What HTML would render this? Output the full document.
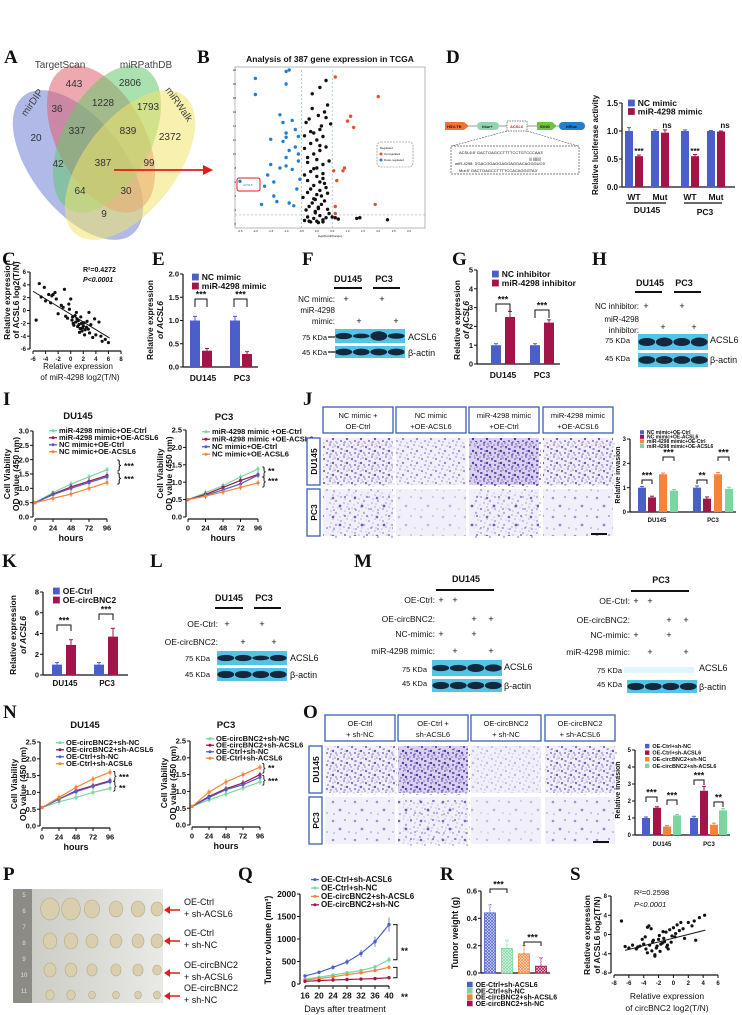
<!DOCTYPE html>
<html><head><meta charset="utf-8">
<style>
html,body{margin:0;padding:0;background:#fff;}
svg{display:block;font-family:"Liberation Sans Narrow","Liberation Sans",sans-serif;}
</style></head>
<body>
<svg id="fig" width="742" height="1015" viewBox="0 0 742 1015" xmlns="http://www.w3.org/2000/svg">
<defs>
<pattern id="dotsD" width="14" height="12" patternUnits="userSpaceOnUse">
<circle cx="2" cy="3" r="1.1" fill="#5a3fb5"/><circle cx="8" cy="1" r="0.9" fill="#6a4fc0"/><circle cx="11" cy="7" r="1.2" fill="#4e36a8"/><circle cx="5" cy="9" r="1" fill="#6a4fc0"/><circle cx="1" cy="11" r="0.8" fill="#7a60c8"/><circle cx="9" cy="10" r="0.7" fill="#5a3fb5"/><circle cx="13" cy="2" r="0.7" fill="#7a60c8"/><circle cx="6" cy="5" r="0.8" fill="#5a3fb5"/></pattern>
<pattern id="dotsS" width="22" height="19" patternUnits="userSpaceOnUse">
<circle cx="3" cy="4" r="1.3" fill="#5a3fb5"/><circle cx="15" cy="3" r="1" fill="#6a4fc0"/><circle cx="10" cy="12" r="1.4" fill="#4e36a8"/><circle cx="19" cy="15" r="0.9" fill="#7a60c8"/><circle cx="4" cy="16" r="0.8" fill="#6a4fc0"/></pattern>
<pattern id="hB" width="3" height="3" patternUnits="userSpaceOnUse"><rect width="3" height="3" fill="#dfe3fa"/><path d="M0 0L3 3M3 0L0 3" stroke="#4b5fc9" stroke-width="0.7"/></pattern>
<pattern id="hG" width="3" height="3" patternUnits="userSpaceOnUse"><rect width="3" height="3" fill="#e3f7ea"/><path d="M0 0L3 3M3 0L0 3" stroke="#7dd6a0" stroke-width="0.7"/></pattern>
<pattern id="hO" width="3" height="3" patternUnits="userSpaceOnUse"><rect width="3" height="3" fill="#fde6d6"/><path d="M0 0L3 3M3 0L0 3" stroke="#f5843b" stroke-width="0.7"/></pattern>
<pattern id="hR" width="3" height="3" patternUnits="userSpaceOnUse"><rect width="3" height="3" fill="#f3d4df"/><path d="M0 0L3 3M3 0L0 3" stroke="#a3154a" stroke-width="0.7"/></pattern>
<linearGradient id="photo" x1="0" x2="1"><stop offset="0" stop-color="#c9c9c2"/><stop offset="1" stop-color="#e9e9e6"/></linearGradient>
</defs>
</svg>
<script>
// ---------- data ----------
const dNC=[1.0,1.0,1.0,1.0];
const dMimic=[0.55,0.97,0.55,0.99];
const dErrNC=[0.06,0.02,0.02,0.01];
const dErrMimic=[0.02,0.05,0.03,0.01];
const eNC=[1.0,1.0];
const eMimic=[0.35,0.28];
const gNC=[1.0,1.0];
const gInh=[2.5,2.2];
const kCtrl=[1.0,1.0];
const kCirc=[2.9,3.7];
const jDU=[1.0,0.6,1.55,0.88];
const jPC=[1.0,0.55,1.55,0.95];
const oDU=[1.0,1.6,0.5,1.15];
const oPC=[1.0,2.6,0.6,1.45];
const rWeights=[0.44,0.18,0.14,0.05];
const hours=[0,24,48,72,96];
const iDU_green=[0.5,0.85,1.15,1.4,1.65];
const iDU_red=[0.5,0.8,1.05,1.25,1.45];
const iDU_blue=[0.5,0.78,1.0,1.2,1.4];
const iDU_orange=[0.5,0.65,0.8,1.0,1.2];
const iPC_green=[0.5,0.7,0.9,1.15,1.38];
const iPC_red=[0.5,0.65,0.85,1.05,1.22];
const iPC_blue=[0.5,0.62,0.78,0.95,1.2];
const iPC_orange=[0.5,0.6,0.72,0.85,0.98];
const nDU_green=[0.55,0.72,0.85,1.0,1.12];
const nDU_red=[0.55,0.8,1.05,1.2,1.35];
const nDU_blue=[0.55,0.8,1.02,1.18,1.32];
const nDU_orange=[0.55,0.85,1.15,1.4,1.6];
const nPC_green=[0.55,0.75,0.92,1.1,1.28];
const nPC_red=[0.55,0.85,1.08,1.25,1.5];
const nPC_blue=[0.55,0.82,1.05,1.2,1.42];
const nPC_orange=[0.55,0.98,1.28,1.5,1.72];
const days=[16,20,24,28,32,36,40];
const qBlue=[180,260,370,490,680,940,1320];
const qGreen=[110,150,200,250,300,380,540];
const qOrange=[90,120,160,210,250,300,370];
const qRed=[60,75,90,100,110,120,140];
const cX=[-5.5,-5,-4.7,-4.2,-4,-3.5,-3.2,-3,-2.8,-2.5,-2.3,-2,-1.5,-1,-0.8,-0.5,-0.3,0,0.2,0.4,0.5,0.7,0.8,1,1.1,1.2,1.3,1.5,1.6,1.8,2,2.1,2.3,2.5,2.6,2.8,3,3.2,3.5,4,4.5,5,5.5,6,-1.2,0.9,1.7,2.2,0.3,-0.2,1.4,3.8,4.8,2.9,1.9];
const cY=[-1.5,4.2,2.1,3.6,1.5,2.5,1.2,2.3,2.5,2.8,1.8,-0.5,0.8,3.3,-0.9,-1.2,1.0,1.8,-1.5,-2.0,-2.3,-0.8,-1.8,-1.3,-2.5,-1.6,-2.2,-2.8,-1.0,-3.2,-2.4,-1.9,-3.0,-2.6,-1.7,-2.9,-3.5,-2.2,-4.2,-3.8,-1.8,-4.8,-4.5,-5.0,0.5,-0.3,-2.0,-3.8,-1.0,0.2,-3.4,-1.3,-4.0,-0.3,-2.7];
const sX=[-7,-6.5,-6,-5.5,-5,-4.8,-4.5,-4.2,-4,-3.8,-3.5,-3.3,-3,-2.8,-2.5,-2.3,-2,-1.8,-1.5,-1.3,-1,-0.8,-0.5,-0.3,0,0.2,0.5,0.8,1,1.3,1.5,2,2.5,3,3.5,4.2,-3.7,-3.2,-2.7,-2.2,-1.7,-1.2,-0.7,-0.2,0.3,-2.5,-1.9,-1.4,-0.9,2.8,-3.5,-2.9];
const sY=[2.8,-2.5,-2.8,-2.2,-3.0,-2.6,-2.4,-1.0,-2.0,-0.5,1.5,1.8,1.2,-1.5,-4.5,-2.8,-1.0,-3.5,-1.8,-0.8,0.5,-2.2,1.0,-1.6,1.4,-0.5,2.0,0.8,2.5,1.2,-0.8,2.5,1.8,-1.2,3.5,4.0,-3.0,-2.2,-1.2,-2.4,-2.0,-1.5,-3.0,-0.3,0.2,-4.2,-0.2,0.6,-2.6,2.8,-3.8,-3.4];
const vBlackX=[-0.4,-0.3,-0.2,-0.1,0,0.1,0.2,0.3,0.4,-0.35,-0.25,-0.15,-0.05,0.05,0.15,0.25,0.35,-0.45,-0.3,-0.2,-0.1,0,0.1,0.2,0.3,-0.4,-0.2,0,0.2,0.4,-0.3,-0.1,0.1,0.3,-0.2,0,0.2,-0.1,0.1,0.15,-0.35,-0.25,0.05,0.25,-0.15,0.35,-0.05,0.15,-0.3,0.2,0,0.1,-0.2,0.3,0.45,-0.4,0.5,0.7,1.3,1.4,2.3,-0.4,0.1,0.3,-0.15,0.05,-0.25,0.2,0.6,-0.05,0.05,-0.1,0.1,0,-0.3,-0.1,0.25,0.35];
const vBlackY=[0.5,1.0,0.3,0.8,0.4,1.2,0.6,0.9,1.5,2.0,2.5,3.0,1.8,2.2,2.8,3.3,2.1,3.8,4.5,5.0,5.5,4.2,6.0,6.5,5.2,7.0,7.5,8.0,8.5,9.0,9.5,10.0,10.5,11.0,11.5,12.0,12.5,13.0,13.5,14.0,14.5,15.0,15.5,16.0,16.5,17.0,3.5,4.0,6.2,7.2,9.2,11.2,13.2,15.2,14.3,12.6,1.0,0.7,0.8,0.9,0.6,10.8,19.5,20.5,18.6,0.2,0.4,0.3,0.9,1.6,2.4,3.6,4.8,6.8,8.8,7.9,5.8,4.4];
const vBlueX=[-2.0,-2.0,-1.0,-0.9,-1.0,-1.5,-2.5,-1.2,-1.1,-1.0,-0.8,-0.6,-1.6,-1.4,-1.0,-0.7,-0.6,-1.8,-1.3,-0.9,-0.75,-1.1,-0.65,-1.5,-1.0,-0.8,-0.55,-1.7,-1.4,-1.0,-0.7,-0.6,-0.9,-1.2];
const vBlueY=[20.8,18.5,21.8,22.0,20.0,12.1,6.1,15.6,14.5,13.0,14.8,12.5,7.0,6.0,9.5,11.0,10.0,2.8,3.2,3.0,2.6,11.8,5.0,8.5,8.3,7.8,6.4,5.4,4.0,12.4,13.5,9.0,10.5,8.0];
const vRedX=[0.6,2.0,1.1,1.0,1.2,0.9,0.85,0.55,0.65,0.6,0.6,1.9];
const vRedY=[21.0,18.2,15.4,14.7,13.8,8.0,7.6,7.6,6.2,2.5,1.5,2.8];

// ---------- helpers ----------
const S=document.getElementById('fig');
const NS='http://www.w3.org/2000/svg';
function el(tag,a,name,p){
 const e=document.createElementNS(NS,tag);
 for(const k in a)e.setAttribute(k,a[k]);
 
 
 (p||S).appendChild(e);return e;}
function tx(x,y,s,sz,name,o){o=o||{};
 const e=el('text',{x:x,y:y,'font-size':sz,'text-anchor':o.a||'start','font-weight':o.w||'bold',fill:o.f||'#111'},name);
 if(o.it)e.setAttribute('font-style','italic');
 if(o.ff)e.setAttribute('font-family',o.ff);
 e.textContent=s;
 if(o.rot)e.setAttribute('transform','rotate(-90 '+x+' '+y+')');
 return e;}
function lin(d0,d1,r0,r1){return v=>r0+(v-d0)*(r1-r0)/(d1-d0);}
function L(x1,y1,x2,y2,name,w,c,dash){const a={x1:x1,y1:y1,x2:x2,y2:y2,stroke:c||'#111','stroke-width':w||1.2};if(dash)a['stroke-dasharray']=dash;return el('line',a,name);}
function yAxis(x,sc,ticks,labels,sz,name){
 L(x,sc(ticks[0]),x,sc(ticks[ticks.length-1]),name);
 ticks.forEach((t,i)=>{L(x-3,sc(t),x,sc(t),name+'-tick',1);tx(x-4,sc(t)+sz*0.35,labels[i],sz,name+'-label',{a:'end'});});}
function xAxis(y,sc,ticks,labels,sz,name){
 L(sc(ticks[0]),y,sc(ticks[ticks.length-1]),y,name);
 ticks.forEach((t,i)=>{L(sc(t),y,sc(t),y+3,name+'-tick',1);tx(sc(t),y+4+sz,labels[i],sz,name+'-label',{a:'middle'});});}
function bar(x,w,v,err,sc,fill,name){
 const y=sc(v),y0=sc(0);
 el('rect',{x:x-w/2,y:y,width:w,height:y0-y,fill:fill},name);
 if(err){L(x,y,x,sc(v+err),name+'-error',1,fill);L(x-2,sc(v+err),x+2,sc(v+err),name+'-error-cap',1,fill);}}
function legend(x,y,dy,items,sz,name,sw){
 items.forEach((it,i)=>{
  if(it.line){L(x,y+i*dy-sz*0.3,x+8,y+i*dy-sz*0.3,name+'-line',1.3,it.c);el('circle',{cx:x+4,cy:y+i*dy-sz*0.3,r:1.5,fill:it.c},name+'-marker');}
  else el('rect',{x:x,y:y+i*dy-sz*0.75,width:sw||sz*0.8,height:sz*0.8,fill:it.c},name+'-swatch');
  tx(x+(it.line?10:(sw||sz*0.8)+3),y+i*dy,it.t,sz,name+'-label');});}
function sig(x1,x2,y,h,s,name){
 el('path',{d:'M'+x1+' '+(y+h)+'V'+y+'H'+x2+'V'+(y+h),fill:'none',stroke:'#111','stroke-width':1},name+'-bracket');
 tx((x1+x2)/2,y-1.5,s,9,name+'-stars',{a:'middle'});}
function blot(x,y,w,h,n,intens,name){
 el('rect',{x:x,y:y,width:w,height:h,fill:'#54c4e6'},name);
 for(let i=0;i<n;i++){const bw=w/n;
  el('ellipse',{cx:x+bw*(i+0.5),cy:y+h/2,rx:bw*0.48,ry:h*0.28*(intens?intens[i]:1),fill:'#0d1a2e',opacity:intens&&intens[i]<0.2?0:0.92},name+'-band');}}
function letter(x,y,s){tx(x,y,s,19,'panel-label-'+s.toLowerCase(),{ff:'"Liberation Serif",serif'});}
const BLUE='#4b5fc9',RED='#a3154a',ORG='#f5843b',GRN='#7dd6a0';

// ---------- A: Venn ----------
letter(4,63,'A');
[['#6f7fd6',78,165,88,46,52,'venn-mirdip'],['#e0606e',101,139,80,44,62,'venn-targetscan'],['#66c86e',107,139,80,44,-62,'venn-mirpathdb'],['#f0e46c',130,165,88,46,-52,'venn-mirwalk']].forEach(v=>{
 el('ellipse',{cx:v[1],cy:v[2],rx:v[3],ry:v[4],fill:v[0],opacity:0.55,transform:'rotate('+v[5]+' '+v[1]+' '+v[2]+')'},v[6]);});
tx(60,68,'TargetScan',10,'venn-label-targetscan',{a:'middle',w:'normal',f:'#444'});
tx(146,68,'miRPathDB',10,'venn-label-mirpathdb',{a:'middle',w:'normal',f:'#444'});
tx(26,117,'mirDIP',10,'venn-label-mirdip',{w:'normal',f:'#444'}).setAttribute('transform','rotate(-55 26 117)');
tx(165,90,'miRWalk',10,'venn-label-mirwalk',{w:'normal',f:'#444'}).setAttribute('transform','rotate(55 165 90)');
const vennNums=[['443',74,87],['2806',130,86],['36',57,112],['1228',103,106],['1793',148,110],['337',77,134],['839',128,134],['20',36,141],['2372',170,140],['42',58,167],['387',103,166],['99',149,166],['64',80,194],['30',126,194],['9',104,217]];
vennNums.forEach(n=>tx(n[1],n[2],n[0],10,'venn-count',{a:'middle',w:'normal',f:'#333'}));
L(114,170,205,170,'venn-arrow',1.8,'#e21b1b');
el('path',{d:'M213 170L203 165L203 175Z',fill:'#e21b1b'},'venn-arrow-head');

// ---------- B: volcano ----------
letter(197,63,'B');
tx(330,62,'Analysis of  387 gene expression in TCGA',8.5,'volcano-title',{a:'middle'});
el('rect',{x:235,y:67,width:190,height:161,fill:'none',stroke:'#999','stroke-width':0.7},'volcano-frame');
const bx=lin(-2.5,3,240,409),by=lin(0,22,224,70);
L(bx(-0.5),70,bx(-0.5),228,'volcano-threshold-left',0.6,'#7ab2e0','2,2');
L(bx(0.5),70,bx(0.5),228,'volcano-threshold-right',0.6,'#7ab2e0','2,2');
L(235,by(1.3),425,by(1.3),'volcano-threshold-p',0.6,'#7ab2e0','2,2');
vBlackX.forEach((v,i)=>el('circle',{cx:bx(v),cy:by(vBlackY[i]),r:1.7,fill:'#111'},'volcano-point-ns'));
vBlueX.forEach((v,i)=>el('circle',{cx:bx(v),cy:by(vBlueY[i]),r:1.7,fill:'#1f7fd0'},'volcano-point-down'));
vRedX.forEach((v,i)=>el('circle',{cx:bx(v),cy:by(vRedY[i]),r:1.7,fill:'#e5502f'},'volcano-point-up'));
el('rect',{x:237,y:178,width:23,height:13,rx:2,fill:'none',stroke:'#e21b1b','stroke-width':1},'acsl6-highlight-box');
tx(243,186,'ACSL6',3,'acsl6-point-label',{w:'normal',f:'#1f7fd0'});
el('rect',{x:377,y:142,width:36,height:25,rx:4,fill:'none',stroke:'#777','stroke-width':0.6,'stroke-dasharray':'2,1'},'volcano-legend-box');
tx(380,149,'Regulated',2.8,'volcano-legend-title',{w:'normal'});
el('circle',{cx:381,cy:154,r:1.5,fill:'#e5502f'},'volcano-legend-up');tx(384,155,'Up-regulated',2.8,'volcano-legend-up-label',{w:'normal'});
el('circle',{cx:381,cy:160,r:1.5,fill:'#1f7fd0'},'volcano-legend-down');tx(384,161,'Down-regulated',2.8,'volcano-legend-down-label',{w:'normal'});
const vTicks=[-2.5,-2,-1.5,-1,-0.5,0,0.5,1,1.5,2,2.5,3];
vTicks.forEach(t=>tx(bx(t),232,t.toFixed(1),2.8,'volcano-x-tick',{a:'middle',w:'normal'}));
[0,2,4,6,8,10,12,14,16,18,20,22].forEach(t=>tx(236,by(t)+1,String(t),2.8,'volcano-y-tick',{a:'end',w:'normal'}));
tx(330,237,'log2(FoldChange)',3,'volcano-x-title',{a:'middle',w:'normal'});

// ---------- D ----------
letter(446,63,'D');
el('path',{d:'M445 122H464L469 126L464 130H445Z',fill:'#f0743a'},'construct-hsv-tk');tx(447,128,'HSV-TK',4,'construct-hsv-tk-label');
el('rect',{x:477,y:122,width:22,height:8,rx:4,fill:'#8fd6b0'},'construct-hluc');tx(482,128,'hluc+',4,'construct-hluc-label');
el('rect',{x:507,y:121,width:20,height:10,fill:'#fff',stroke:'#555','stroke-dasharray':'1.5,1','stroke-width':0.7},'construct-acsl6');tx(510,128,'ACSL6',4,'construct-acsl6-label',{f:'#e21b1b'});
el('path',{d:'M537 122H552L557 126L552 130H537Z',fill:'#6cc24a'},'construct-sv40');tx(540,128,'SV40',4,'construct-sv40-label');
el('rect',{x:559,y:122,width:26,height:8,rx:4,fill:'#1f7fd0'},'construct-hrluc');tx(566,128,'hRluc',4,'construct-hrluc-label');
L(469,126,477,126,'construct-link',0.6,'#555');L(499,126,507,126,'construct-link',0.6,'#555');L(527,126,537,126,'construct-link',0.6,'#555');L(557,126,559,126,'construct-link',0.6,'#555');
L(507,131,452,146,'construct-zoom-line',0.6,'#555','2,1');L(527,131,578,146,'construct-zoom-line',0.6,'#555','2,1');
el('rect',{x:451,y:146,width:128,height:28,fill:'none',stroke:'#555','stroke-width':0.7,'stroke-dasharray':'2,1'},'sequence-box');
tx(459,154,"ACSL6:5' GACTGAGCCTTTTCCTGTCCCAA3'",4,'sequence-wt',{w:'normal'});
tx(535,160,"|||  |||||||||",3.5,'sequence-pairing',{a:'middle',w:'normal'});
tx(455,165,"miR-4298:  3'GACGGAGGAGGAGGACAGGGUC5'",4,'sequence-mir',{w:'normal'});
tx(459,172,"Mut:5' GACTGAGCCTTTTCCACAGGGTA3'",4,'sequence-mut',{w:'normal'});
const dy=lin(0,1.5,187,103);
yAxis(622,dy,[0,0.5,1.0,1.5],['0.0','0.5','1.0','1.5'],8,'d-y-axis');
L(622,187,735,187,'d-x-axis');
tx(598,145,'Relative luciferase activity',8,'d-y-title',{a:'middle',rot:1});
const dGroups=[634,660,690,716];
dGroups.forEach((g,i)=>{bar(g-5,8,dNC[i],dErrNC[i],dy,BLUE,'d-bar-nc-mimic');bar(g+5,8,dMimic[i],dErrMimic[i],dy,RED,'d-bar-mir-4298-mimic');});
['WT','Mut','WT','Mut'].forEach((c,i)=>tx(dGroups[i],200,c,8.5,'d-x-label',{a:'middle'}));
L(626,203,666,203,'d-group-line');L(684,203,722,203,'d-group-line');
tx(647,213,'DU145',8.5,'d-group-du145',{a:'middle'});tx(705,215,'PC3',8.5,'d-group-pc3',{a:'middle'});
tx(639,154,'***',8,'d-sig',{a:'middle'});tx(695,154,'***',8,'d-sig',{a:'middle'});
tx(667,128,'ns',8,'d-ns',{a:'middle'});tx(725,128,'ns',8,'d-ns',{a:'middle'});
legend(628,106,8.5,[{t:'NC mimic',c:BLUE},{t:'miR-4298 mimic',c:RED}],8.5,'d-legend');

// ---------- C ----------
letter(2,265,'C');
const cxs=lin(-6,8,33,121),cys=lin(-6,6,349,272);
yAxis(30,cys,[-6,-4,-2,0,2,4,6],['-6','-4','-2','0','2','4','6'],6,'c-y-axis');
xAxis(351,cxs,[-6,-4,-2,0,2,4,6,8],['-6','-4','-2','0','2','4','6','8'],6,'c-x-axis');
cX.forEach((v,i)=>el('circle',{cx:cxs(v),cy:cys(cY[i]),r:1.6,fill:'#111'},'c-scatter-point'));
L(cxs(-6),cys(3),cxs(6.2),cys(-4.3),'c-fit-line',1,'#111');
tx(83,272,'R²=0.4272',7,'c-r-squared');tx(83,282,'P<0.0001',7,'c-p-value',{it:1});
tx(78,369,'Relative expression',8,'c-x-title-1',{a:'middle',w:'normal'});tx(80,380,'of miR-4298 log2(T/N)',8,'c-x-title-2',{a:'middle',w:'normal'});
tx(10,300,'Relative expression',8.5,'c-y-title-1',{a:'middle',rot:1});tx(19,300,'of ACSL6 log2(T/N)',8.5,'c-y-title-2',{a:'middle',rot:1});

// ---------- E ----------
letter(152,265,'E');
const ey=lin(0,2,367,274);
yAxis(183,ey,[0,0.5,1,1.5,2],['0.0','0.5','1.0','1.5','2.0'],7.5,'e-y-axis');
L(183,367,258,367,'e-x-axis');
[201,241].forEach((g,i)=>{bar(g-6,10,eNC[i],0.09,ey,BLUE,'e-bar-nc-mimic');bar(g+6,10,eMimic[i],0.05,ey,RED,'e-bar-mir-4298-mimic');});
tx(203,381,'DU145',8.5,'e-x-label',{a:'middle'});tx(242,381,'PC3',8.5,'e-x-label',{a:'middle'});
sig(195,207,299,8,'***','e-sig-du145');sig(234,247,299,8,'***','e-sig-pc3');
legend(192,280,9,[{t:'NC mimic',c:BLUE},{t:'miR-4298 mimic',c:RED}],8.5,'e-legend');
tx(153,320,'Relative expression',8.5,'e-y-title-1',{a:'middle',rot:1});tx(163,320,'of ACSL6',8.5,'e-y-title-2',{a:'middle',rot:1,it:1});

// ---------- F ----------
letter(302,265,'F');
tx(348,282,'DU145',9,'f-lane-du145',{a:'middle'});tx(384,282,'PC3',9,'f-lane-pc3',{a:'middle'});
L(334,288,362,288,'f-lane-line',2);L(373,288,400,288,'f-lane-line',2);
tx(335,302,'NC mimic:',8,'f-row-nc-mimic',{a:'end',w:'normal'});tx(346,302,'+',9,'f-plus',{a:'middle',w:'normal'});tx(382,302,'+',9,'f-plus',{a:'middle',w:'normal'});
tx(335,313,'miR-4298',8,'f-row-mir',{a:'end',w:'normal'});tx(335,324,'mimic:',8,'f-row-mir-2',{a:'end',w:'normal'});tx(359,324,'+',9,'f-plus',{a:'middle',w:'normal'});tx(396,324,'+',9,'f-plus',{a:'middle',w:'normal'});
blot(335,329,70,14,4,[0.8,0.6,1.2,0.7],'f-blot-acsl6');blot(335,346,70,12,4,null,'f-blot-actin');
tx(327,340,'75 KDa',7.5,'f-marker-75',{a:'end',w:'normal'});L(328,337,335,337,'f-marker-tick');
tx(327,355,'45 KDa',7.5,'f-marker-45',{a:'end',w:'normal'});L(328,352,335,352,'f-marker-tick');
tx(408,340,'ACSL6',9,'f-label-acsl6',{w:'normal'});tx(408,356,'β-actin',9,'f-label-actin',{w:'normal'});

// ---------- G ----------
letter(452,265,'G');
const gy=lin(0,5,364,270);
yAxis(477,gy,[0,1,2,3,4,5],['0','1','2','3','4','5'],7.5,'g-y-axis');
L(477,364,560,364,'g-x-axis');
[503,542].forEach((g,i)=>{bar(g-7,10,gNC[i],0.08,gy,BLUE,'g-bar-nc-inhibitor');bar(g+7,10,gInh[i],i?0.15:0.3,gy,RED,'g-bar-mir-4298-inhibitor');});
tx(503,378,'DU145',8.5,'g-x-label',{a:'middle'});tx(542,378,'PC3',8.5,'g-x-label',{a:'middle'});
sig(496,510,304,8,'***','g-sig-du145');sig(535,549,310,8,'***','g-sig-pc3');
legend(492,277,9,[{t:'NC inhibitor',c:BLUE},{t:'miR-4298 inhibitor',c:RED}],8.5,'g-legend');
tx(460,320,'Relative expression',8.5,'g-y-title-1',{a:'middle',rot:1});tx(469,320,'of ACSL6',8.5,'g-y-title-2',{a:'middle',rot:1,it:1});

// ---------- H ----------
letter(592,265,'H');
tx(650,286,'DU145',9,'h-lane-du145',{a:'middle'});tx(684,286,'PC3',9,'h-lane-pc3',{a:'middle'});
L(635,292,662,292,'h-lane-line',2);L(674,292,701,292,'h-lane-line',2);
tx(639,309,'NC inhibitor:',8,'h-row-nc',{a:'end',w:'normal'});tx(646,309,'+',9,'h-plus',{a:'middle',w:'normal'});tx(682,309,'+',9,'h-plus',{a:'middle',w:'normal'});
tx(639,322,'miR-4298',8,'h-row-mir',{a:'end',w:'normal'});tx(639,333,'inhibitor:',8,'h-row-mir-2',{a:'end',w:'normal'});tx(663,330,'+',9,'h-plus',{a:'middle',w:'normal'});tx(694,330,'+',9,'h-plus',{a:'middle',w:'normal'});
blot(638,334,70,16,4,[0.9,1,0.9,1],'h-blot-acsl6');blot(638,353,70,14,4,null,'h-blot-actin');
tx(630,343,'75 KDa',7.5,'h-marker-75',{a:'end',w:'normal'});tx(630,361,'45 KDa',7.5,'h-marker-45',{a:'end',w:'normal'});
tx(710,343,'ACSL6',9,'h-label-acsl6',{w:'normal'});tx(710,363,'β-actin',9,'h-label-actin',{w:'normal'});

// ---------- line chart helper ----------
function lineChart(o){
 const xs=lin(0,96,o.x0,o.x1),ys=lin(0,o.vmax,o.yb,o.yt);
 const ticks=[],labs=[];for(let v=0;v<=o.vmax+1e-9;v+=0.5){ticks.push(v);labs.push(v.toFixed(1));}
 yAxis(o.x0-2,ys,ticks,labs,7.5,o.n+'-y-axis');
 xAxis(o.yb+2,xs,hours,hours.map(String),7.5,o.n+'-x-axis');
 o.series.forEach(s=>{
  el('polyline',{points:hours.map((h,i)=>xs(h)+','+ys(s.v[i])).join(' '),fill:'none',stroke:s.c,'stroke-width':1.2},o.n+'-line-'+s.k);
  hours.forEach((h,i)=>{el('circle',{cx:xs(h),cy:ys(s.v[i]),r:1.6,fill:s.c},o.n+'-point-'+s.k);if(i)L(xs(h),ys(s.v[i])-3,xs(h),ys(s.v[i])+3,o.n+'-error',0.8,s.c);});
 });
 tx((o.x0+o.x1)/2,o.yb+24,'hours',9,o.n+'-x-title',{a:'middle'});
 tx(o.x0-25,(o.yb+o.yt)/2,'Cell Viability',8.5,o.n+'-y-title-1',{a:'middle',rot:1});
 tx(o.x0-16,(o.yb+o.yt)/2,'OD value (450 nm)',8.5,o.n+'-y-title-2',{a:'middle',rot:1});
 legend(o.x0+14,o.lg,o.ld,o.series.map(s=>({t:s.t,c:s.c,line:1})),7.5,o.n+'-legend');
 return ys;}

// ---------- I ----------
letter(3,405,'I');
tx(78,419,'DU145',9.5,'i-title-du145',{a:'middle'});tx(224,420,'PC3',9.5,'i-title-pc3',{a:'middle'});
const iLabels=['miR-4298 mimic+OE-Ctrl','miR-4298 mimic+OE-ACSL6','NC mimic+OE-Ctrl','NC mimic+OE-ACSL6'];
lineChart({n:'i-du145',x0:35,x1:107,yb:517,yt:431,vmax:3,lg:433,ld:7,series:[{k:'green',c:GRN,v:iDU_green,t:iLabels[0]},{k:'red',c:RED,v:iDU_red,t:iLabels[1]},{k:'blue',c:BLUE,v:iDU_blue,t:iLabels[2]},{k:'orange',c:ORG,v:iDU_orange,t:iLabels[3]}]});
tx(117,469,'}',13,'i-bracket',{w:'normal'});tx(117,482,'}',13,'i-bracket',{w:'normal'});tx(124,469,'***',8.5,'i-sig');tx(124,482,'***',8.5,'i-sig');
lineChart({n:'i-pc3',x0:188,x1:258,yb:517,yt:430,vmax:2.5,lg:434,ld:7.5,series:[{k:'green',c:GRN,v:iPC_green,t:'miR-4298 mimic +OE-Ctrl'},{k:'red',c:RED,v:iPC_red,t:'miR-4298 mimic +OE-ACSL6'},{k:'blue',c:BLUE,v:iPC_blue,t:iLabels[2]},{k:'orange',c:ORG,v:iPC_orange,t:iLabels[3]}]});
tx(262,475,'}',12,'i-bracket',{w:'normal'});tx(262,485,'}',12,'i-bracket',{w:'normal'});tx(268,474,'**',8.5,'i-sig');tx(268,484,'***',8.5,'i-sig');

// ---------- transwell helper ----------
function transwell(x0,yTop,heads,dens,n){
 const xs=[x0,x0+73,x0+146,x0+220],w=70;
 heads.forEach((h,i)=>{el('rect',{x:xs[i],y:yTop,width:w,height:26,fill:'#fff',stroke:'#3a5db5','stroke-width':1.3},n+'-header-box');
  tx(xs[i]+w/2,yTop+11,h[0],7.5,n+'-header-text',{a:'middle',w:'normal'});tx(xs[i]+w/2,yTop+22,h[1],7.5,n+'-header-text',{a:'middle',w:'normal'});});
 const rows=[['DU145',yTop+31],['PC3',yTop+82]];
 rows.forEach((r,ri)=>{
  el('rect',{x:x0-16,y:r[1],width:13,height:47,fill:'#fff',stroke:'#3a5db5','stroke-width':1.3},n+'-row-box');
  tx(x0-6,r[1]+23.5,r[0],8.5,n+'-row-label',{a:'middle',rot:1});
  xs.forEach((x,i)=>{const d=dens[ri][i];
   el('rect',{x:x,y:r[1],width:w,height:47,fill:d>2?'#d8d2ef':'#f1eff9'},n+'-image');
   el('rect',{x:x,y:r[1],width:w,height:47,fill:ri?'url(#dotsS)':'url(#dotsD)',opacity:[0.3,0.55,0.8,1][d]},n+'-cells');
   if(d>1)el('rect',{x:x+2,y:r[1]+1,width:w-3,height:46,fill:'url(#dotsD)',opacity:d>2?0.9:0.35,transform:'translate(3 2)'},n+'-cells-extra');});});
 L(xs[3]+w-22,yTop+127,xs[3]+w-6,yTop+127,n+'-scale-bar',2);}

// ---------- J ----------
letter(303,405,'J');
transwell(323,407,[['NC mimic +','OE-Ctrl'],['NC mimic','+OE-ACSL6'],['miR-4298 mimic','+OE-Ctrl'],['miR-4298 mimic','+OE-ACSL6']],[[2,1,3,2],[2,0,2,1]],'j');
const jy=lin(0,3,512,439);
yAxis(630,jy,[0,1,2,3],['0','1','2','3'],6,'j-y-axis');L(630,512,736,512,'j-x-axis');
const jCols=[BLUE,RED,ORG,GRN];
[642,652,663,674].forEach((x,i)=>bar(x,8,jDU[i],0.05,jy,jCols[i],'j-bar-du145'));
[697,707,718,729].forEach((x,i)=>bar(x,8,jPC[i],0.07,jy,jCols[i],'j-bar-pc3'));
tx(657,522,'DU145',6,'j-x-label',{a:'middle'});tx(713,522,'PC3',6,'j-x-label',{a:'middle'});
tx(620,475,'Relative invasion',7,'j-y-title',{a:'middle',rot:1});
sig(642,652,480,4,'***','j-sig');sig(663,674,457,4,'***','j-sig');sig(697,707,480,4,'**','j-sig');sig(718,729,457,4,'***','j-sig');
legend(640,434,4.6,[{t:'NC mimic+OE-Ctrl',c:BLUE},{t:'NC mimic+OE-ACSL6',c:RED},{t:'miR-4298 mimic+OE-Ctrl',c:ORG},{t:'miR-4298 mimic+OE-ACSL6',c:GRN}],5,'j-legend');

// ---------- K ----------
letter(2,567,'K');
const ky=lin(0,8,675,592);
yAxis(43,ky,[0,2,4,6,8],['0','2','4','6','8'],7.5,'k-y-axis');L(43,675,128,675,'k-x-axis');
[64,106].forEach((g,i)=>{bar(g-7,10,kCtrl[i],0.2,ky,BLUE,'k-bar-oe-ctrl');bar(g+7,10,kCirc[i],i?0.8:0.5,ky,RED,'k-bar-oe-circbnc2');});
tx(65,686,'DU145',8,'k-x-label',{a:'middle'});tx(107,686,'PC3',8,'k-x-label',{a:'middle'});
sig(57,71,625,6,'***','k-sig');sig(99,113,614,6,'***','k-sig');
legend(53,594,9,[{t:'OE-Ctrl',c:BLUE},{t:'OE-circBNC2',c:RED}],8.5,'k-legend');
tx(16,635,'Relative expression',8.5,'k-y-title-1',{a:'middle',rot:1});tx(26,635,'of ACSL6',8.5,'k-y-title-2',{a:'middle',rot:1,it:1});

// ---------- L ----------
letter(150,567,'L');
tx(229,601,'DU145',9,'l-lane-du145',{a:'middle'});tx(264,601,'PC3',9,'l-lane-pc3',{a:'middle'});
L(215,608,243,608,'l-lane-line',2);L(254,608,281,608,'l-lane-line',2);
tx(218,627,'OE-Ctrl:',8.5,'l-row-oe-ctrl',{a:'end',w:'normal'});tx(227,627,'+',9,'l-plus',{a:'middle',w:'normal'});tx(262,627,'+',9,'l-plus',{a:'middle',w:'normal'});
tx(218,645,'OE-circBNC2:',8.5,'l-row-oe-circ',{a:'end',w:'normal'});tx(243,645,'+',9,'l-plus',{a:'middle',w:'normal'});tx(274,645,'+',9,'l-plus',{a:'middle',w:'normal'});
blot(217,651,70,14,4,[0.8,0.8,0.6,0.8],'l-blot-acsl6');blot(217,668,70,13,4,null,'l-blot-actin');
tx(210,661,'75 KDa',7.5,'l-marker-75',{a:'end',w:'normal'});tx(210,677,'45 KDa',7.5,'l-marker-45',{a:'end',w:'normal'});
tx(290,661,'ACSL6',9,'l-label-acsl6',{w:'normal'});tx(290,678,'β-actin',9,'l-label-actin',{w:'normal'});

// ---------- M ----------
letter(354,567,'M');
function mBlock(x0,yT,n,fade){
 tx(x0+30,yT,n==='m-du145'?'DU145':'PC3',9,n+'-title',{a:'middle'});
 L(x0,yT+8,x0+58,yT+8,n+'-lane-line',2);
 const lx=[x0+5,x0+19,x0+38,x0+55];
 const rows=[['OE-Ctrl:',[1,1,0,0]],['OE-circBNC2:',[0,0,1,1]],['NC-mimic:',[1,0,1,0]],['miR-4298 mimic:',[0,1,0,1]]];
 const ry=[yT+21,yT+40,yT+55,yT+72];
 rows.forEach((r,i)=>{tx(x0-1,ry[i],r[0],8.5,n+'-row-label',{a:'end',w:'normal'});r[1].forEach((p,j)=>{if(p)tx(lx[j],ry[i],'+',9,n+'-plus',{a:'middle',w:'normal'});});});
 if(fade){el('rect',{x:x0-7,y:yT+84,width:70,height:6,fill:'#dff5fb'},n+'-blot-acsl6');}
 else blot(x0-4,yT+78,70,16,4,[0.7,0.7,0.9,0.8],n+'-blot-acsl6');
 blot(x0-4,yT+97,70,13,4,[1,1,1,1],n+'-blot-actin');
 tx(x0-9,yT+90,'75 KDa',7.5,n+'-marker-75',{a:'end',w:'normal'});tx(x0-9,yT+104,'45 KDa',7.5,n+'-marker-45',{a:'end',w:'normal'});
 tx(x0+68,yT+88,'ACSL6',9,n+'-label-acsl6',{w:'normal'});tx(x0+68,yT+107,'β-actin',9,n+'-label-actin',{w:'normal'});}
mBlock(436,582,'m-du145',false);
mBlock(631,583,'m-pc3',true);

// ---------- N ----------
letter(3,718,'N');
tx(85,728,'DU145',9.5,'n-title-du145',{a:'middle'});tx(226,728,'PC3',9.5,'n-title-pc3',{a:'middle'});
const nLabels=['OE-circBNC2+sh-NC','OE-circBNC2+sh-ACSL6','OE-Ctrl+sh-NC','OE-Ctrl+sh-ACSL6'];
lineChart({n:'n-du145',x0:42,x1:110,yb:826,yt:742,vmax:2.5,lg:745,ld:7,series:[{k:'green',c:GRN,v:nDU_green,t:nLabels[0]},{k:'red',c:RED,v:nDU_red,t:nLabels[1]},{k:'blue',c:BLUE,v:nDU_blue,t:nLabels[2]},{k:'orange',c:ORG,v:nDU_orange,t:nLabels[3]}]});
tx(113,779,'}',11,'n-bracket',{w:'normal'});tx(113,789,'}',11,'n-bracket',{w:'normal'});tx(119,780,'***',8.5,'n-sig');tx(119,791,'**',8.5,'n-sig');
lineChart({n:'n-pc3',x0:192,x1:260,yb:825,yt:741,vmax:2.5,lg:741,ld:6.5,series:[{k:'green',c:GRN,v:nPC_green,t:nLabels[0]},{k:'red',c:RED,v:nPC_red,t:nLabels[1]},{k:'blue',c:BLUE,v:nPC_blue,t:nLabels[2]},{k:'orange',c:ORG,v:nPC_orange,t:nLabels[3]}]});
tx(262,771,'}',11,'n-bracket',{w:'normal'});tx(262,783,'}',11,'n-bracket',{w:'normal'});tx(268,771,'**',8.5,'n-sig');tx(268,784,'***',8.5,'n-sig');

// ---------- O ----------
letter(303,718,'O');
transwell(325,715,[['OE-Ctrl','+ sh-NC'],['OE-Ctrl +','sh-ACSL6'],['OE-circBNC2','+ sh-NC'],['OE-circBNC2','+ sh-ACSL6']],[[2,3,0,2],[1,2,0,1]],'o');
const oy=lin(0,5,835,750);
yAxis(635,oy,[0,1,2,3,4,5],['0','1','2','3','4','5'],6,'o-y-axis');L(635,835,730,835,'o-x-axis');
[646,657,667,677].forEach((x,i)=>bar(x,8,oDU[i],0.06,oy,jCols[i],'o-bar-du145'));
[694,704,714,723].forEach((x,i)=>bar(x,8,oPC[i],i===1?0.25:0.1,oy,jCols[i],'o-bar-pc3'));
tx(662,846,'DU145',6,'o-x-label',{a:'middle'});tx(709,846,'PC3',6,'o-x-label',{a:'middle'});
tx(620,790,'Relative invasion',7,'o-y-title',{a:'middle',rot:1});
sig(646,657,797,5,'***','o-sig');sig(667,677,800,5,'***','o-sig');sig(694,704,780,5,'***','o-sig');sig(714,723,802,5,'**','o-sig');
legend(645,748,6.6,[{t:'OE-Ctrl+sh-NC',c:BLUE},{t:'OE-Ctrl+sh-ACSL6',c:RED},{t:'OE-circBNC2+sh-NC',c:ORG},{t:'OE-circBNC2+sh-ACSL6',c:GRN}],5.5,'o-legend');

// ---------- P ----------
letter(3,880,'P');
el('rect',{x:13,y:889,width:150,height:114,fill:'url(#photo)'},'tumor-photo');
el('rect',{x:13,y:889,width:19,height:114,fill:'#8c8c84'},'tumor-ruler');
['5','6','7','8','9','10','11'].forEach((s,i)=>tx(24,897+i*16,s,6,'ruler-mark',{a:'middle',w:'normal',f:'#ddd'}));
const pRows=[909,941,970,995],pSz=[[11,11,9,8,8,7],[8,8,7,7,7,7],[7,7,6,6,6,5],[5,5,4,4,4,4]],pX=[50,71,92,116,138,157];
pRows.forEach((y,r)=>pX.forEach((x,c)=>el('ellipse',{cx:x,cy:y,rx:pSz[r][c]*0.85,ry:pSz[r][c],fill:'#d9cfae',stroke:'#b8a983','stroke-width':0.6},'tumor')));
const pLab=[['OE-Ctrl','+ sh-ACSL6'],['OE-Ctrl','+ sh-NC'],['OE-circBNC2','+ sh-ACSL6'],['OE-circBNC2','+ sh-NC']];
const pAy=[910,941,973,996];
pLab.forEach((l,i)=>{L(168,pAy[i],180,pAy[i],'tumor-arrow',1.5,'#e21b1b');el('path',{d:'M164 '+pAy[i]+'l6 -4v8z',fill:'#e21b1b'},'tumor-arrow-head');
 tx(184,pAy[i]-5,l[0],9,'tumor-group-label',{w:'normal'});tx(184,pAy[i]+7,l[1],9,'tumor-group-label',{w:'normal'});});

// ---------- Q ----------
letter(238,880,'Q');
const qx=lin(16,40,305,389),qy=lin(0,2000,984,894);
yAxis(300,qy,[0,500,1000,1500,2000],['0','500','1000','1500','2000'],8.5,'q-y-axis');
xAxis(986,qx,days,days.map(String),8.5,'q-x-axis');
[[qBlue,BLUE,'blue'],[qGreen,GRN,'green'],[qOrange,ORG,'orange'],[qRed,RED,'red']].forEach(s=>{
 el('polyline',{points:days.map((d,i)=>qx(d)+','+qy(s[0][i])).join(' '),fill:'none',stroke:s[1],'stroke-width':1.2},'q-line-'+s[2]);
 days.forEach((d,i)=>{el('circle',{cx:qx(d),cy:qy(s[0][i]),r:1.7,fill:s[1]},'q-point-'+s[2]);const e=s[0][i]*0.12;L(qx(d),qy(s[0][i]-e),qx(d),qy(s[0][i]+e),'q-error',0.8,s[1]);});});
tx(345,1012,'Days after treatment',9,'q-x-title',{a:'middle',w:'normal'});
tx(271,940,'Tumor volume (mm³)',9,'q-y-title',{a:'middle',rot:1});
el('path',{d:'M393 '+qy(1320)+'H397V'+qy(540)+'H393',fill:'none',stroke:'#111'},'q-bracket');tx(401,954,'**',9,'q-sig');
el('path',{d:'M393 '+qy(370)+'H397V'+qy(140)+'H393',fill:'none',stroke:'#111'},'q-bracket');tx(401,1000,'**',9,'q-sig');
legend(311,882,8.4,[{t:'OE-Ctrl+sh-ACSL6',c:BLUE,line:1},{t:'OE-Ctrl+sh-NC',c:GRN,line:1},{t:'OE-circBNC2+sh-ACSL6',c:ORG,line:1},{t:'OE-circBNC2+sh-NC',c:RED,line:1}],8,'q-legend');

// ---------- R ----------
letter(440,880,'R');
const ry=lin(0,0.6,973,891);
yAxis(481,ry,[0,0.2,0.4,0.6],['0.0','0.2','0.4','0.6'],7.5,'r-y-axis');L(481,973,550,973,'r-x-axis');
const rFill=['url(#hB)','url(#hG)','url(#hO)','url(#hR)'],rCol=[BLUE,GRN,ORG,RED];
[490,507,524,541].forEach((x,i)=>{bar(x,11,rWeights[i],0.06,ry,rFill[i],'r-bar');el('rect',{x:x-5.5,y:ry(rWeights[i]),width:11,height:ry(0)-ry(rWeights[i]),fill:'none',stroke:rCol[i],'stroke-width':0.8},'r-bar-outline');});
sig(490,507,889,4,'***','r-sig');sig(524,541,942,4,'***','r-sig');
tx(458,933,'Tumor weight (g)',9,'r-y-title',{a:'middle',rot:1});
legend(467,987,6.3,[{t:'OE-Ctrl+sh-ACSL6',c:BLUE},{t:'OE-Ctrl+sh-NC',c:GRN},{t:'OE-circBNC2+sh-ACSL6',c:ORG},{t:'OE-circBNC2+sh-NC',c:RED}],7,'r-legend');

// ---------- S ----------
letter(570,880,'S');
const sxs=lin(-8,6,614,718),sys=lin(-8,8,973,896);
yAxis(611,sys,[-8,-4,0,4,8],['-8','-4','0','4','8'],6,'s-y-axis');
xAxis(975,sxs,[-8,-6,-4,-2,0,2,4,6],['-8','-6','-4','-2','0','2','4','6'],6,'s-x-axis');
sX.forEach((v,i)=>el('circle',{cx:sxs(v),cy:sys(sY[i]),r:1.6,fill:'#111'},'s-scatter-point'));
L(sxs(-6.5),sys(-3.3),sxs(4.3),sys(0.9),'s-fit-line',1,'#111');
tx(634,895,'R²=0.2598',7.5,'s-r-squared',{w:'normal'});tx(634,907,'P<0.0001',7.5,'s-p-value',{it:1,w:'normal'});
tx(667,999,'Relative expression',8.5,'s-x-title-1',{a:'middle',w:'normal'});tx(667,1011,'of circBNC2 log2(T/N)',8.5,'s-x-title-2',{a:'middle',w:'normal'});
tx(590,935,'Relative expression',8.5,'s-y-title-1',{a:'middle',rot:1});tx(600,935,'of ACSL6 log2(T/N)',8.5,'s-y-title-2',{a:'middle',rot:1});
</script>
</body></html>
